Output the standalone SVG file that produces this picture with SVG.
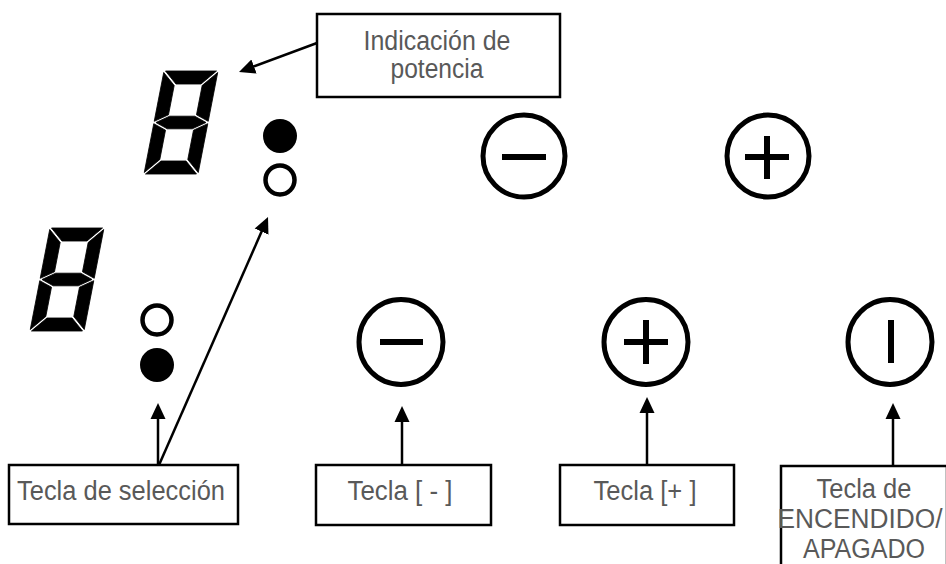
<svg xmlns="http://www.w3.org/2000/svg" width="946" height="564" viewBox="0 0 946 564">
<style>
.box{fill:#fff;stroke:#000;stroke-width:2.5}
.lbl{font-family:"Liberation Sans",Arial,sans-serif;font-size:27px;fill:#595959;text-anchor:middle}
.ring{fill:none;stroke:#000;stroke-width:5}
.sym{stroke:#000;stroke-width:6;fill:none}
.seg{fill:#000;stroke:#000;stroke-width:0.8;stroke-linejoin:round}
.con{stroke:#000;stroke-width:2.5;fill:none;marker-end:url(#ah)}
</style>
<defs>
<marker id="ah" markerWidth="16" markerHeight="16" refX="8" refY="8" orient="auto" markerUnits="userSpaceOnUse">
<path d="M0,0.5 L16,8 L0,15.5 Z" fill="#000"/>
</marker>
<g id="digit">
<polygon class="seg" points="1.5,0 52.5,0 39.5,13 14.5,13"/>
<polygon class="seg" points="0,1.5 13,14.5 13,43.8 0,50.3"/>
<polygon class="seg" points="54,1.5 54,50.3 41,43.8 41,14.5"/>
<polygon class="seg" points="2,51.5 14.5,45.2 39.5,45.2 52,51.5 39.5,57.8 14.5,57.8"/>
<polygon class="seg" points="0,52.7 13,59.2 13,88.5 0,101.5"/>
<polygon class="seg" points="54,52.7 54,101.5 41,88.5 41,59.2"/>
<polygon class="seg" points="1.5,103 52.5,103 39.5,90 14.5,90"/>
</g>
</defs>
<rect width="946" height="564" fill="#fff"/>

<g id="display-top">
<use href="#digit" transform="translate(164,71) skewX(-11)"/>
<circle cx="280" cy="136" r="17" fill="#000"/>
<circle cx="280" cy="180" r="14.5" fill="none" stroke="#000" stroke-width="4.5"/>
</g>

<g id="display-bottom">
<use href="#digit" transform="translate(50,228) skewX(-11)"/>
<circle cx="157" cy="320" r="14.5" fill="none" stroke="#000" stroke-width="4.5"/>
<circle cx="157" cy="365" r="17" fill="#000"/>
</g>

<g id="key-minus-top">
<circle class="ring" cx="524" cy="156" r="41"/>
<line class="sym" x1="502" y1="157" x2="546" y2="157"/>
</g>
<g id="key-plus-top">
<circle class="ring" cx="768" cy="156" r="41"/>
<line class="sym" x1="745" y1="157" x2="789" y2="157"/>
<line class="sym" x1="767" y1="136" x2="767" y2="179"/>
</g>
<g id="key-minus-bottom">
<ellipse class="ring" cx="401" cy="342" rx="42" ry="42.5"/>
<line class="sym" x1="380" y1="342" x2="423" y2="342"/>
</g>
<g id="key-plus-bottom">
<ellipse class="ring" cx="646" cy="342" rx="42" ry="42.5"/>
<line class="sym" x1="624" y1="342" x2="668" y2="342"/>
<line class="sym" x1="646" y1="320" x2="646" y2="364"/>
</g>
<g id="key-power">
<ellipse class="ring" cx="890" cy="342" rx="42" ry="42.5"/>
<line class="sym" x1="891" y1="320" x2="891" y2="363"/>
</g>

<g id="label-potencia">
<rect class="box" x="317" y="14" width="243" height="83"/>
<text class="lbl" x="437" y="50" textLength="147" lengthAdjust="spacingAndGlyphs">Indicación de</text>
<text class="lbl" x="437" y="78" textLength="93" lengthAdjust="spacingAndGlyphs">potencia</text>
</g>
<g id="label-seleccion">
<rect class="box" x="9" y="465" width="229" height="59"/>
<text class="lbl" x="121" y="500" textLength="208" lengthAdjust="spacingAndGlyphs">Tecla de selección</text>
</g>
<g id="label-menos">
<rect class="box" x="316" y="465" width="175" height="60"/>
<text class="lbl" x="400" y="500" textLength="105" lengthAdjust="spacingAndGlyphs">Tecla [ - ]</text>
</g>
<g id="label-mas">
<rect class="box" x="560" y="465" width="174" height="60"/>
<text class="lbl" x="645" y="500" textLength="103" lengthAdjust="spacingAndGlyphs">Tecla [+ ]</text>
</g>
<g id="label-encendido">
<rect class="box" x="781" y="466" width="166" height="110"/>
<text class="lbl" x="864" y="498" textLength="95" lengthAdjust="spacingAndGlyphs">Tecla de</text>
<text class="lbl" x="860" y="528" textLength="165" lengthAdjust="spacingAndGlyphs">ENCENDIDO/</text>
<text class="lbl" x="864" y="558" textLength="122" lengthAdjust="spacingAndGlyphs">APAGADO</text>
</g>

<g id="connectors">
<line class="con" x1="317" y1="43" x2="246.5" y2="69.2"/>
<line class="con" x1="158" y1="465" x2="158" y2="411"/>
<line class="con" x1="159" y1="465" x2="264.8" y2="224.3"/>
<line class="con" x1="402" y1="465" x2="402" y2="414"/>
<line class="con" x1="647" y1="465" x2="647" y2="405"/>
<line class="con" x1="893" y1="466" x2="893" y2="411"/>
</g>
</svg>
